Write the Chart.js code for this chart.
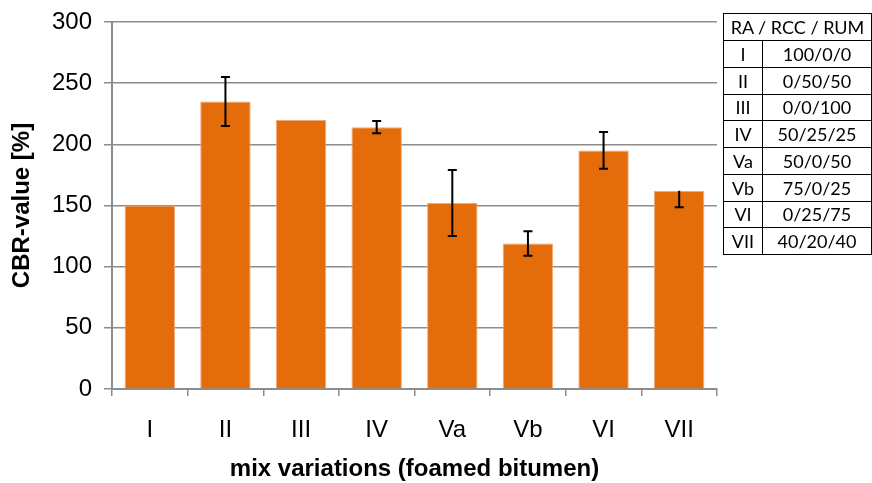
<!DOCTYPE html>
<html>
<head>
<meta charset="utf-8">
<script src="https://cdn.jsdelivr.net/npm/chart.js@4"></script>
<style>
  body { margin: 0; background: #fff; }
  #wrap { position: relative; width: 872px; height: 483px; }
  #mixTable {
    position: absolute; left: 723px; top: 13px; width: 149px; height: 242px;
    border-collapse: collapse; font-family: Lato, "Open Sans", sans-serif; font-size: 18px; color: #000;
  }
  #mixTable td { border: 1.5px solid #000; text-align: center; padding: 0; line-height: 1; }
</style>
</head>
<body>
<div id="wrap">
  <canvas id="cbrChart" width="872" height="483"></canvas>
  <table id="mixTable"></table>
</div>
<script>
let mixLabels = ["I", "II", "III", "IV", "Va", "Vb", "VI", "VII"];
let cbrValues = [150, 235, 220, 214, 152, 119, 195, 162];
let errPlus = [0, 20, 0, 5, 27, 10, 15, 0];
let errMinus = [0, 20, 0, 5, 27, 10, 15, 13.5];
let mixShares = ["100/0/0", "0/50/50", "0/0/100", "50/25/25", "50/0/50", "75/0/25", "0/25/75", "40/20/40"];
let yTicks = [0, 50, 100, 150, 200, 250, 300];

// legend table on the right
let table = document.getElementById("mixTable");
let head = table.insertRow();
let hc = head.insertCell();
hc.colSpan = 2;
hc.innerText = "RA / RCC / RUM";
hc.style.height = "26px";
for (let i = 0; i < mixLabels.length; i++) {
    let row = table.insertRow();
    let a = row.insertCell();
    a.innerText = mixLabels[i];
    a.style.width = "38px";
    let b = row.insertCell();
    b.innerText = mixShares[i];
}

let errorBars = {
    id: 'errorBars',
    afterDatasetsDraw(chart) {
        let ctx = chart.ctx;
        let meta = chart.getDatasetMeta(0);
        let y = chart.scales.y;
        ctx.save();
        ctx.strokeStyle = '#000';
        ctx.lineWidth = 2;
        meta.data.forEach((bar, i) => {
            if (!errPlus[i] && !errMinus[i]) return;
            let top = y.getPixelForValue(cbrValues[i] + errPlus[i]);
            let bot = y.getPixelForValue(cbrValues[i] - errMinus[i]);
            ctx.beginPath();
            ctx.moveTo(bar.x, top);
            ctx.lineTo(bar.x, bot);
            if (errPlus[i]) { ctx.moveTo(bar.x - 4.5, top); ctx.lineTo(bar.x + 4.5, top); }
            if (errMinus[i]) { ctx.moveTo(bar.x - 4.5, bot); ctx.lineTo(bar.x + 4.5, bot); }
            ctx.stroke();
        });
        ctx.restore();
    }
};

let ctx = document.getElementById('cbrChart').getContext('2d');
let cbrChart = new Chart(ctx, {
    type: 'bar',
    data: {
        labels: mixLabels,
        datasets: [{
            data: cbrValues,
            backgroundColor: '#E46C0A',
            borderColor: '#F2A97A',
            borderWidth: 1,
            categoryPercentage: 1,
            barPercentage: 0.667
        }]
    },
    options: {
        responsive: false,
        animation: false,
        layout: { padding: { top: 22, right: 155, left: 0, bottom: 0 } },
        plugins: { legend: { display: false }, tooltip: { enabled: false } },
        scales: {
            x: {
                afterFit: (s) => { s.height = 94; },
                grid: { display: true, drawOnChartArea: false, offset: true, tickLength: 7, color: '#8c8c8c', lineWidth: 1.5 },
                border: { color: '#8c8c8c', width: 2 },
                ticks: { color: '#000', font: { family: 'Liberation Sans', size: 24 }, padding: 20 },
                title: { display: true, text: 'mix variations (foamed bitumen)', color: '#000',
                    font: { family: 'Liberation Sans', size: 24, weight: 'bold', lineHeight: 1.05 }, padding: { top: 0, bottom: 1 } }
            },
            y: {
                min: 0, max: 300,
                afterFit: (s) => { s.width = 112; s.paddingTop = 0; s.paddingBottom = 0; },
                afterBuildTicks: (s) => { s.ticks = yTicks.map(v => ({ value: v })); },
                grid: { color: '#8c8c8c', lineWidth: 1.5, tickLength: 8 },
                border: { color: '#8c8c8c', width: 2 },
                ticks: { color: '#000', font: { family: 'Liberation Sans', size: 24 }, padding: 12 },
                title: { display: true, text: 'CBR-value [%]', color: '#000',
                    font: { family: 'Liberation Sans', size: 24, weight: 'bold' }, padding: { top: 8, bottom: 0 } }
            }
        }
    },
    plugins: [errorBars]
});
</script>
</body>
</html>
